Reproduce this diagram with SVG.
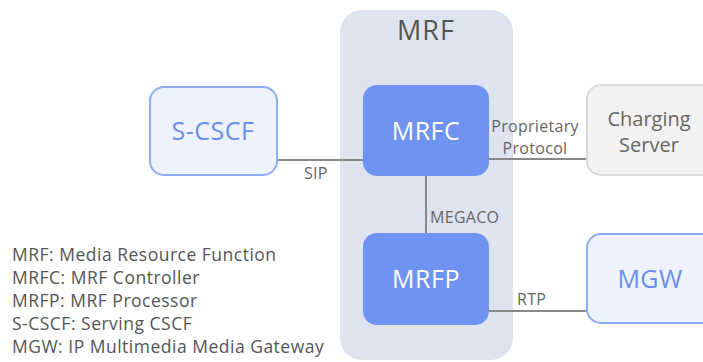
<svg xmlns="http://www.w3.org/2000/svg" width="703" height="362" viewBox="0 0 703 362">
<style>
text{font-family:"Open Sans","Noto Sans",sans-serif}
.core{fill:#6f93f2}
.core-t{fill:#ffffff;font-size:25px;text-anchor:middle;letter-spacing:0.5px}
.ext{fill:#eef2fd;stroke:#8eabf5;stroke-width:2}
.ext-t{fill:#6a8ef0;font-size:25px;text-anchor:middle;letter-spacing:0.5px}
.lbl{fill:#666;font-size:16px;letter-spacing:0.3px}
.leg{fill:#555;font-size:17.5px;letter-spacing:0.5px}
.ln{stroke:#888;stroke-width:2;fill:none}
</style>
<rect width="703" height="362" fill="#fff"/>
<g id="MRF">
<rect x="340" y="10" width="173" height="350" rx="22" fill="#dfe3f0"/>
<text x="426" y="40" text-anchor="middle" font-size="27" letter-spacing="1" fill="#555">MRF</text>
</g>
<g id="connectors">
<line class="ln" x1="277" y1="160" x2="363" y2="160"/>
<line class="ln" x1="489" y1="159" x2="587" y2="159"/>
<line class="ln" x1="426" y1="176" x2="426" y2="233"/>
<line class="ln" x1="489" y1="311" x2="587" y2="311"/>
<text class="lbl" x="304" y="179">SIP</text>
<text class="lbl" x="535" y="132" text-anchor="middle">Proprietary</text>
<text class="lbl" x="535" y="154" text-anchor="middle">Protocol</text>
<text class="lbl" x="430" y="223">MEGACO</text>
<text class="lbl" x="517" y="305">RTP</text>
</g>
<g id="S-CSCF">
<rect class="ext" x="150" y="87" width="127" height="88" rx="14"/>
<text class="ext-t" x="213" y="140">S-CSCF</text>
</g>
<g id="MRFC">
<rect class="core" x="363" y="85" width="126" height="91" rx="14"/>
<text class="core-t" x="426" y="140">MRFC</text>
</g>
<g id="MRFP">
<rect class="core" x="363" y="233" width="126" height="92" rx="14"/>
<text class="core-t" x="426" y="288">MRFP</text>
</g>
<g id="ChargingServer">
<rect x="587" y="85" width="130" height="90" rx="14" fill="#f2f2f2" stroke="#d9d9d9" stroke-width="2"/>
<text x="649" y="126" text-anchor="middle" font-size="20" fill="#666">Charging</text>
<text x="649" y="152" text-anchor="middle" font-size="20" fill="#666">Server</text>
</g>
<g id="MGW">
<rect class="ext" x="587" y="234" width="130" height="89" rx="14"/>
<text class="ext-t" x="650" y="288">MGW</text>
</g>
<g id="legend">
<text class="leg" x="12" y="261">MRF: Media Resource Function</text>
<text class="leg" x="12" y="284">MRFC: MRF Controller</text>
<text class="leg" x="12" y="307">MRFP: MRF Processor</text>
<text class="leg" x="12" y="330">S-CSCF: Serving CSCF</text>
<text class="leg" x="12" y="353">MGW: IP Multimedia Media Gateway</text>
</g>
</svg>
